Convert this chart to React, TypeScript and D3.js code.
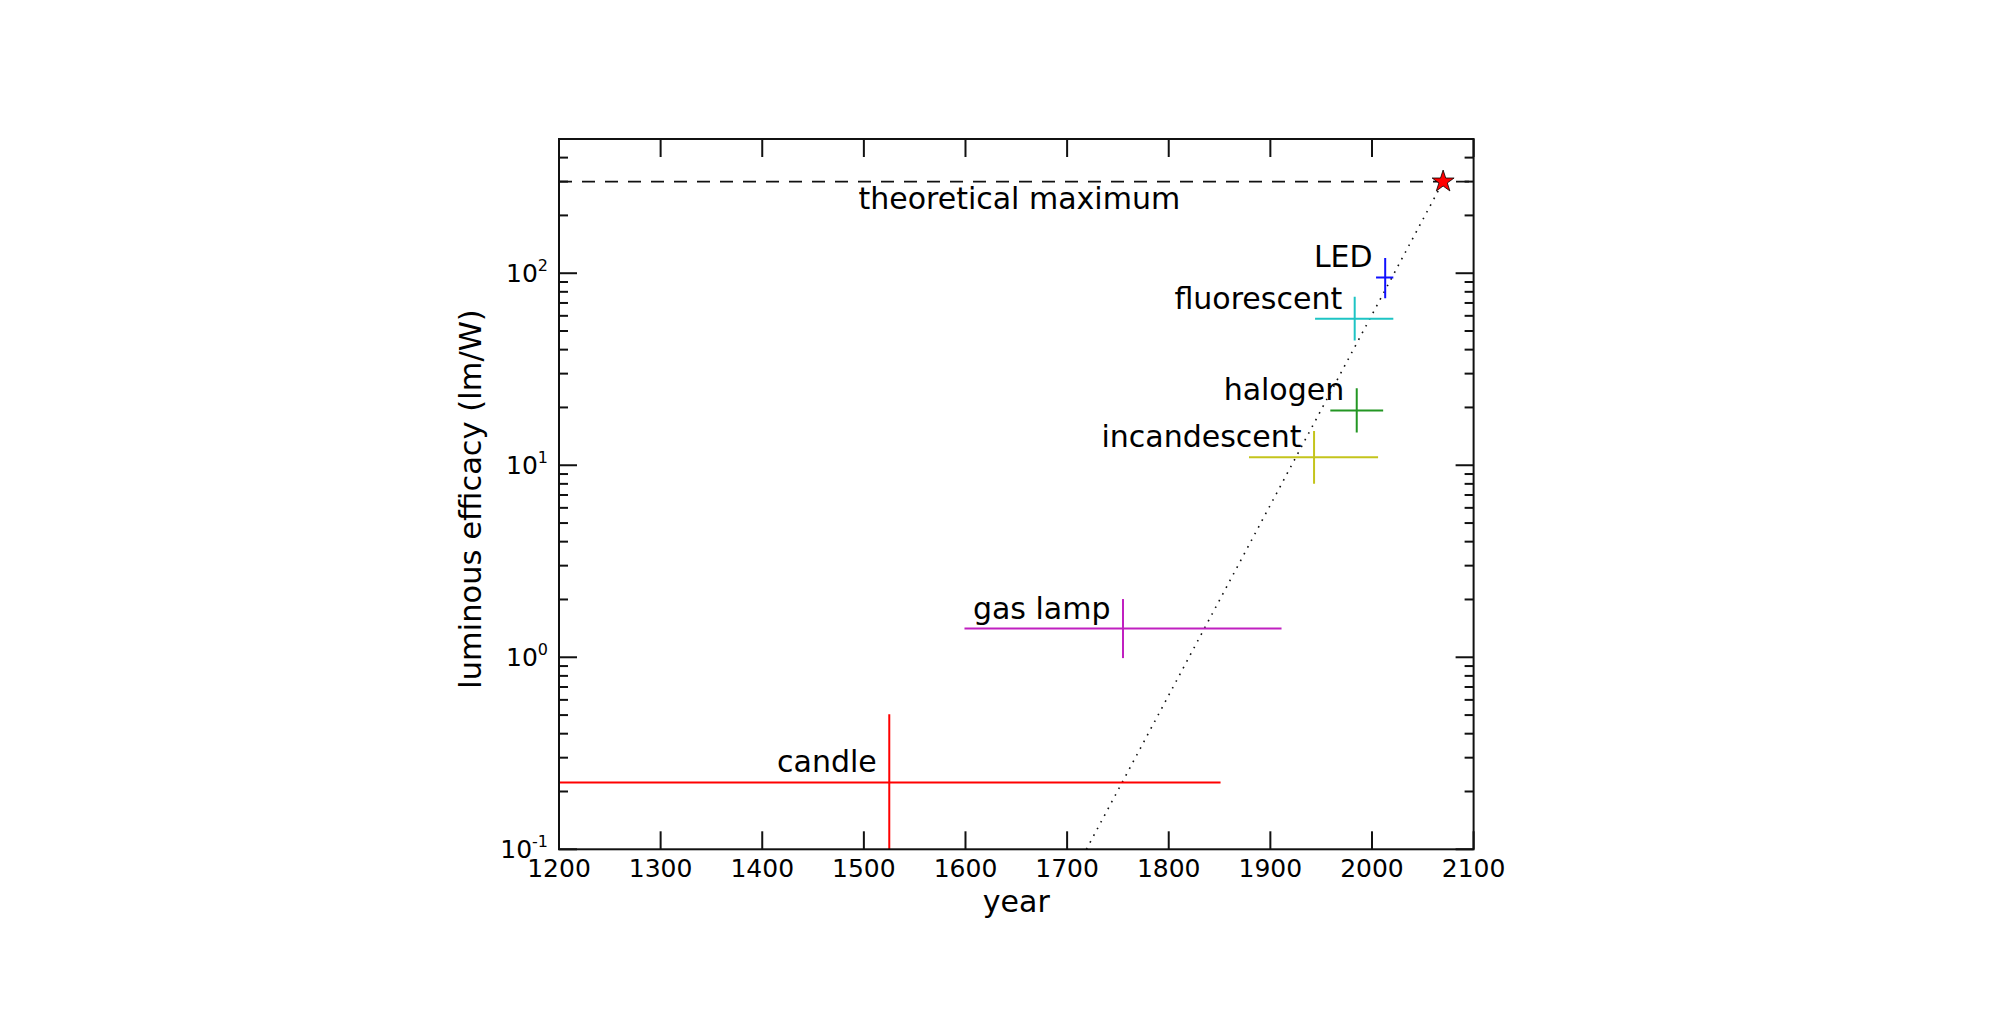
import React from "react";
import * as d3 from "d3";

// ---- data ----
const technologies = ["candle", "gas lamp", "incandescent", "halogen", "fluorescent", "LED"];
const years = [1525, 1755, 1943, 1985, 1983, 2013];
const yearLow = [1199, 1599, 1879, 1959, 1944, 2004];
const yearHigh = [1851, 1911, 2006, 2011, 2021, 2021];
const efficacy = [0.223, 1.41, 11, 19.3, 58, 95];
const efficacyLow = [0.05, 0.99, 8.0, 14.8, 44.6, 74];
const efficacyHigh = [0.505, 2.01, 15.1, 25.2, 75.5, 120];
const colors = ["#ff0000", "#c020c0", "#c4c41c", "#239623", "#1ec4c4", "#1010ff"];

const theoreticalMax = 300;
const theoreticalMaxYear = 2070;
const theoreticalLabel = "theoretical maximum";
const trendYears = [1719, 2070];
const trendValues = [0.1, 300];

const xTicks = [1200, 1300, 1400, 1500, 1600, 1700, 1800, 1900, 2000, 2100];
const yMajorExps = [-1, 0, 1, 2];
const xDomain = [1200, 2100];
const yDomain = [0.1, 500];

const xLabel = "year";
const yLabel = "luminous efficacy (lm/W)";

// ---- layout ----
const W = 1990, H = 1026;
const L = 559, R = 1473.6, T = 139, B = 849.3;
const FONT = "DejaVu Sans";

export default function App() {
  const x = d3.scaleLinear().domain(xDomain).range([L, R]);
  const y = d3.scaleLog().domain(yDomain).range([B, T]);

  const minor: number[] = [];
  for (let e = -1; e <= 2; e++) {
    for (let m = 2; m <= 9; m++) {
      const v = m * Math.pow(10, e);
      if (v < yDomain[1]) minor.push(v);
    }
  }

  const trendLine = d3
    .line<number>()
    .x((_, i) => x(trendYears[i]))
    .y((v) => y(v))(trendValues) as string;

  const star = d3.symbol().type(d3.symbolStar).size(150)() as string;

  const frameColor = "#111";

  return (
    <svg
      width={W}
      height={H}
      style={{ position: "absolute", left: 0, top: 0, background: "#fff" }}
      fontFamily={FONT}
    >
      <rect x={0} y={0} width={W} height={H} fill="#fff" />
      <defs>
        <clipPath id="plotclip">
          <rect x={L} y={T} width={R - L} height={B - T} />
        </clipPath>
      </defs>

      <g clipPath="url(#plotclip)">
        {/* theoretical max dashed */}
        <line
          x1={L}
          x2={R}
          y1={y(theoreticalMax)}
          y2={y(theoreticalMax)}
          stroke="#111"
          strokeWidth={1.8}
          strokeDasharray="13,10"
        />
        {/* trend dotted */}
        <path d={trendLine} fill="none" stroke="#111" strokeWidth={1.6} strokeDasharray="1.6,6" />
        {/* error bars */}
        {technologies.map((t, i) => (
          <g key={t} stroke={colors[i]} strokeWidth={2}>
            <line x1={x(yearLow[i])} x2={x(yearHigh[i])} y1={y(efficacy[i])} y2={y(efficacy[i])} />
            <line x1={x(years[i])} x2={x(years[i])} y1={y(efficacyLow[i])} y2={y(efficacyHigh[i])} />
          </g>
        ))}
      </g>

      {/* star */}
      <path
        d={star}
        transform={`translate(${x(theoreticalMaxYear)},${y(theoreticalMax)})`}
        fill="#ff0000"
        stroke="#000"
        strokeWidth={0.8}
      />

      {/* annotation labels */}
      {technologies.map((t, i) => (
        <text
          key={t + "lbl"}
          x={x(years[i]) - 12.5}
          y={y(efficacy[i]) - 10}
          textAnchor="end"
          fontSize={30}
          fill="#000"
        >
          {t}
        </text>
      ))}
      <text x={(L + R) / 2 + 3} y={209} textAnchor="middle" fontSize={30} fill="#000">
        {theoreticalLabel}
      </text>

      {/* frame */}
      <rect x={L} y={T} width={R - L} height={B - T} fill="none" stroke={frameColor} strokeWidth={2} />

      {/* x ticks */}
      {xTicks.map((v) => (
        <g key={"xt" + v}>
          <line x1={x(v)} x2={x(v)} y1={B} y2={B - 18} stroke={frameColor} strokeWidth={2} />
          <line x1={x(v)} x2={x(v)} y1={T} y2={T + 18} stroke={frameColor} strokeWidth={2} />
          <text x={x(v)} y={877} textAnchor="middle" fontSize={25} fill="#000">
            {v}
          </text>
        </g>
      ))}

      {/* y minor ticks */}
      {minor.map((v) => (
        <g key={"ym" + v}>
          <line x1={L} x2={L + 9} y1={y(v)} y2={y(v)} stroke={frameColor} strokeWidth={2} />
          <line x1={R} x2={R - 9} y1={y(v)} y2={y(v)} stroke={frameColor} strokeWidth={2} />
        </g>
      ))}
      {/* y major ticks */}
      {yMajorExps.map((e) => {
        const v = Math.pow(10, e);
        return (
          <g key={"yM" + e}>
            <line x1={L} x2={L + 18} y1={y(v)} y2={y(v)} stroke={frameColor} strokeWidth={2} />
            <line x1={R} x2={R - 18} y1={y(v)} y2={y(v)} stroke={frameColor} strokeWidth={2} />
            <text x={548} y={y(v) + 9} textAnchor="end" fontSize={25} fill="#000">
              <tspan>10</tspan>
              <tspan dy={-11.5} fontSize={16}>
                {String(e)}
              </tspan>
            </text>
          </g>
        );
      })}

      {/* axis labels */}
      <text x={(L + R) / 2} y={912} textAnchor="middle" fontSize={30} fill="#000">
        {xLabel}
      </text>
      <text
        transform={`translate(481,499) rotate(-90)`}
        textAnchor="middle"
        fontSize={30.5}
        fill="#000"
      >
        {yLabel}
      </text>
    </svg>
  );
}
